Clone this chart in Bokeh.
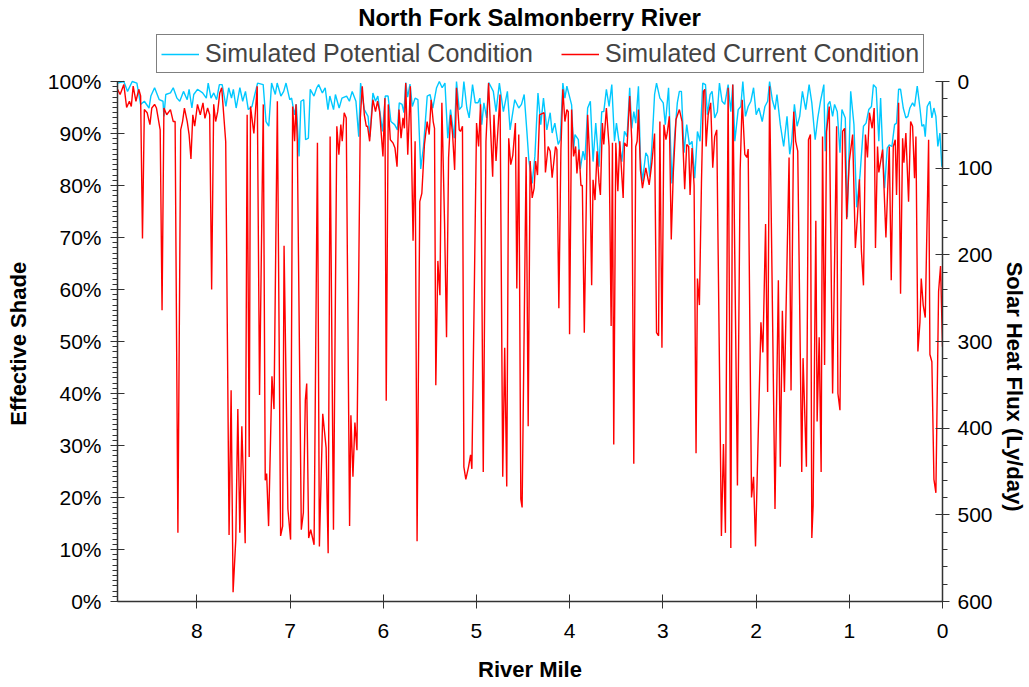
from bokeh.plotting import figure
from bokeh.models import (Range1d, LinearAxis, FixedTicker, PrintfTickFormatter,
                          Legend, LegendItem, Label)
from bokeh.embed import file_html
from bokeh.resources import INLINE

title_text = "North Fork Salmonberry River"
x_label = "River Mile"
y_label = "Effective Shade"
y2_label = "Solar Heat Flux (Ly/day)"
series_names = ["Simulated Potential Condition", "Simulated Current Condition"]

# Simulated current condition (river mile, effective shade %)
current_mile = [
    8.850, 8.823, 8.783, 8.753, 8.723, 8.703, 8.683, 8.653, 8.623, 8.603,
    8.583, 8.563, 8.533, 8.503, 8.483, 8.453, 8.433, 8.403, 8.393, 8.373,
    8.353, 8.323, 8.283, 8.253, 8.233, 8.203, 8.173, 8.153, 8.133, 8.103,
    8.083, 8.063, 8.043, 8.023, 7.993, 7.963, 7.934, 7.913, 7.884, 7.862,
    7.841, 7.819, 7.798, 7.776, 7.754, 7.733, 7.690, 7.654, 7.632, 7.611,
    7.582, 7.560, 7.539, 7.517, 7.481, 7.460, 7.438, 7.424, 7.388, 7.352,
    7.327, 7.287, 7.266, 7.251, 7.230, 7.194, 7.172, 7.136, 7.101, 7.079,
    7.064, 7.023, 6.994, 6.972, 6.951, 6.936, 6.922, 6.879, 6.857, 6.836,
    6.821, 6.800, 6.778, 6.742, 6.706, 6.685, 6.649, 6.613, 6.591, 6.570,
    6.534, 6.498, 6.476, 6.455, 6.440, 6.419, 6.397, 6.361, 6.347, 6.325,
    6.304, 6.282, 6.246, 6.225, 6.203, 6.182, 6.168, 6.146, 6.111, 6.083,
    6.061, 6.039, 6.003, 5.982, 5.968, 5.946, 5.924, 5.896, 5.874, 5.852,
    5.831, 5.809, 5.788, 5.773, 5.759, 5.737, 5.709, 5.680, 5.658, 5.637,
    5.608, 5.586, 5.558, 5.529, 5.507, 5.486, 5.464, 5.450, 5.436, 5.414,
    5.392, 5.371, 5.342, 5.321, 5.299, 5.277, 5.256, 5.234, 5.214, 5.185,
    5.171, 5.150, 5.135, 5.114, 5.085, 5.063, 5.049, 4.999, 4.977, 4.956,
    4.927, 4.898, 4.870, 4.826, 4.812, 4.790, 4.747, 4.718, 4.697, 4.675,
    4.654, 4.632, 4.610, 4.582, 4.567, 4.546, 4.524, 4.510, 4.467, 4.445,
    4.424, 4.402, 4.381, 4.366, 4.345, 4.323, 4.274, 4.260, 4.231, 4.209,
    4.188, 4.152, 4.137, 4.116, 4.094, 4.073, 4.051, 4.030, 4.015, 4.001,
    3.979, 3.958, 3.936, 3.922, 3.900, 3.879, 3.864, 3.843, 3.807, 3.785,
    3.764, 3.749, 3.728, 3.706, 3.685, 3.670, 3.649, 3.634, 3.606, 3.577,
    3.555, 3.541, 3.527, 3.505, 3.483, 3.462, 3.426, 3.412, 3.384, 3.356,
    3.334, 3.312, 3.291, 3.276, 3.262, 3.241, 3.219, 3.183, 3.147, 3.118,
    3.089, 3.068, 3.046, 3.032, 3.010, 2.989, 2.967, 2.953, 2.931, 2.910,
    2.888, 2.859, 2.823, 2.794, 2.766, 2.744, 2.723, 2.708, 2.687, 2.665,
    2.644, 2.629, 2.608, 2.586, 2.565, 2.550, 2.536, 2.514, 2.487, 2.465,
    2.444, 2.422, 2.372, 2.350, 2.329, 2.300, 2.271, 2.250, 2.200, 2.171,
    2.149, 2.121, 2.099, 2.085, 2.049, 2.027, 2.006, 1.948, 1.927, 1.898,
    1.876, 1.855, 1.797, 1.761, 1.740, 1.718, 1.696, 1.646, 1.625, 1.596,
    1.575, 1.553, 1.510, 1.496, 1.460, 1.438, 1.417, 1.402, 1.388, 1.359,
    1.345, 1.323, 1.302, 1.287, 1.265, 1.244, 1.215, 1.179, 1.136, 1.122,
    1.100, 1.072, 1.050, 1.028, 1.000, 0.964, 0.935, 0.913, 0.891, 0.870,
    0.848, 0.827, 0.805, 0.784, 0.755, 0.733, 0.719, 0.697, 0.683, 0.643,
    0.607, 0.571, 0.550, 0.528, 0.507, 0.493, 0.471, 0.450, 0.428, 0.414,
    0.393, 0.364, 0.342, 0.321, 0.300, 0.285, 0.264, 0.242, 0.228, 0.207,
    0.185, 0.149, 0.135, 0.114, 0.092, 0.071, 0.042, 0.021, 0.000,
]
current_shade = [
    98.5, 97.5, 99.4, 95.0, 96.2, 95.2, 99.1, 96.2, 98.5, 97.2,
    69.8, 94.6, 94.0, 91.7, 94.9, 95.6, 94.9, 91.7, 90.7, 56.0,
    94.9, 93.6, 94.6, 92.3, 92.3, 13.2, 90.7, 92.3, 94.9, 92.3,
    89.8, 85.1, 93.6, 91.4, 95.6, 93.6, 95.9, 92.9, 94.9, 93.6,
    60.0, 95.6, 92.3, 94.2, 97.8, 98.8, 88.4, 12.8, 40.6, 1.8,
    11.9, 37.0, 13.2, 33.7, 11.2, 93.6, 27.8, 95.2, 90.0, 99.1,
    39.7, 95.6, 23.3, 24.6, 14.5, 43.3, 37.0, 96.2, 12.6, 14.5,
    68.4, 17.8, 11.9, 95.2, 88.5, 95.6, 88.5, 13.8, 17.1, 38.7,
    41.9, 12.2, 13.8, 10.9, 88.2, 10.6, 36.1, 29.6, 9.3, 89.4,
    13.8, 91.4, 85.9, 91.7, 88.5, 94.0, 93.0, 14.5, 35.8, 24.0,
    34.4, 29.1, 93.0, 99.1, 93.6, 91.4, 91.4, 88.5, 96.5, 94.2,
    96.2, 94.2, 85.6, 96.8, 38.6, 95.6, 88.8, 88.2, 87.2, 83.6,
    94.6, 89.1, 93.0, 91.0, 99.7, 85.9, 99.1, 69.4, 88.5, 11.6,
    76.9, 78.5, 87.9, 92.3, 89.8, 96.5, 92.3, 91.0, 41.6, 65.5,
    58.9, 95.9, 72.6, 50.8, 85.3, 93.6, 89.8, 83.0, 98.8, 90.7,
    90.4, 91.4, 25.9, 23.5, 25.9, 28.2, 25.5, 92.0, 87.5, 95.6,
    24.9, 88.5, 99.7, 81.7, 93.6, 84.7, 97.5, 24.0, 48.8, 22.1,
    89.1, 84.0, 85.8, 92.0, 60.2, 89.8, 19.7, 18.1, 85.5, 33.7,
    84.7, 77.6, 79.5, 84.7, 82.0, 93.6, 94.0, 82.5, 87.5, 86.6,
    81.5, 87.5, 86.9, 56.4, 86.9, 98.5, 92.3, 94.6, 94.2, 51.4,
    94.6, 85.6, 87.5, 82.3, 86.9, 80.0, 80.0, 51.7, 93.6, 85.3,
    60.8, 81.1, 77.2, 86.6, 80.5, 78.2, 92.0, 87.9, 94.9, 87.5,
    53.0, 88.2, 30.2, 88.2, 78.9, 88.5, 77.6, 88.2, 87.5, 97.2,
    88.8, 26.5, 87.5, 88.5, 94.6, 83.0, 79.5, 83.4, 80.1, 84.4,
    90.0, 51.7, 51.1, 92.3, 48.8, 91.7, 88.8, 90.1, 93.3, 69.6,
    82.5, 92.7, 94.6, 92.3, 79.3, 87.9, 87.5, 78.2, 87.2, 80.0,
    28.5, 62.1, 57.0, 80.5, 98.1, 98.5, 87.5, 93.6, 95.9, 83.4,
    89.4, 90.7, 12.6, 30.3, 13.2, 98.8, 10.3, 99.4, 22.3, 82.8,
    96.5, 86.0, 85.4, 87.0, 20.0, 24.0, 10.6, 53.7, 47.9, 72.6,
    40.3, 99.1, 17.8, 61.8, 25.9, 55.9, 40.3, 85.4, 40.6, 94.2,
    88.5, 86.6, 24.9, 46.8, 25.9, 88.8, 89.8, 12.2, 18.4, 73.2,
    34.6, 50.8, 24.9, 89.4, 45.5, 90.4, 95.2, 40.0, 91.4, 40.0,
    36.8, 90.4, 91.0, 73.5, 84.7, 89.8, 68.0, 73.9, 81.2, 67.4,
    60.8, 89.8, 85.4, 94.0, 91.0, 94.9, 68.0, 87.5, 82.5, 86.9,
    70.0, 87.5, 61.8, 87.5, 88.8, 78.2, 95.9, 59.2, 89.1, 84.4,
    90.1, 76.9, 92.3, 91.4, 81.4, 89.4, 48.1, 53.7, 62.1, 57.0,
    54.6, 88.8, 47.5, 46.1, 23.5, 20.9, 59.6, 64.5, 49.0,
]

# Simulated potential condition (river mile, effective shade %)
potential_mile = [
    8.850, 8.783, 8.743, 8.693, 8.643, 8.603, 8.563, 8.513, 8.493, 8.453,
    8.403, 8.363, 8.353, 8.333, 8.283, 8.253, 8.213, 8.183, 8.143, 8.103,
    8.083, 8.053, 8.033, 7.993, 7.938, 7.898, 7.878, 7.848, 7.818, 7.788,
    7.758, 7.728, 7.688, 7.658, 7.628, 7.608, 7.578, 7.538, 7.508, 7.478,
    7.448, 7.408, 7.378, 7.348, 7.288, 7.258, 7.228, 7.198, 7.158, 7.138,
    7.098, 7.068, 7.043, 7.003, 6.983, 6.953, 6.933, 6.903, 6.883, 6.853,
    6.833, 6.803, 6.783, 6.743, 6.713, 6.693, 6.653, 6.623, 6.593, 6.573,
    6.533, 6.513, 6.473, 6.443, 6.393, 6.363, 6.333, 6.293, 6.263, 6.243,
    6.203, 6.163, 6.143, 6.111, 6.083, 6.058, 6.008, 5.978, 5.948, 5.918,
    5.878, 5.848, 5.828, 5.798, 5.778, 5.758, 5.738, 5.713, 5.688, 5.658,
    5.628, 5.598, 5.568, 5.528, 5.498, 5.468, 5.428, 5.398, 5.368, 5.338,
    5.308, 5.278, 5.238, 5.214, 5.185, 5.157, 5.135, 5.103, 5.078, 5.042,
    5.013, 4.983, 4.963, 4.943, 4.920, 4.891, 4.868, 4.819, 4.790, 4.754,
    4.711, 4.668, 4.639, 4.589, 4.546, 4.517, 4.488, 4.459, 4.438, 4.402,
    4.373, 4.340, 4.310, 4.281, 4.245, 4.209, 4.188, 4.159, 4.123, 4.101,
    4.073, 4.051, 4.030, 3.979, 3.958, 3.943, 3.907, 3.886, 3.857, 3.836,
    3.807, 3.778, 3.749, 3.720, 3.685, 3.656, 3.634, 3.606, 3.577, 3.548,
    3.519, 3.498, 3.469, 3.440, 3.412, 3.384, 3.356, 3.334, 3.312, 3.291,
    3.262, 3.241, 3.219, 3.183, 3.162, 3.140, 3.118, 3.089, 3.068, 3.032,
    2.996, 2.974, 2.939, 2.903, 2.874, 2.845, 2.823, 2.801, 2.773, 2.744,
    2.715, 2.687, 2.658, 2.629, 2.601, 2.572, 2.543, 2.522, 2.493, 2.472,
    2.444, 2.415, 2.393, 2.365, 2.336, 2.300, 2.271, 2.250, 2.228, 2.192,
    2.164, 2.142, 2.114, 2.085, 2.056, 2.027, 1.999, 1.970, 1.934, 1.905,
    1.876, 1.855, 1.826, 1.797, 1.776, 1.740, 1.704, 1.668, 1.639, 1.618,
    1.589, 1.560, 1.532, 1.503, 1.467, 1.431, 1.402, 1.366, 1.338, 1.309,
    1.273, 1.258, 1.229, 1.208, 1.179, 1.158, 1.129, 1.100, 1.079, 1.043,
    1.021, 0.985, 0.950, 0.921, 0.885, 0.848, 0.820, 0.791, 0.762, 0.741,
    0.712, 0.683, 0.664, 0.643, 0.621, 0.593, 0.571, 0.543, 0.514, 0.493,
    0.471, 0.450, 0.421, 0.393, 0.371, 0.350, 0.321, 0.300, 0.271, 0.242,
    0.221, 0.200, 0.185, 0.164, 0.135, 0.114, 0.092, 0.071, 0.050, 0.028,
    0.007,
]
potential_shade = [
    99.7, 100.0, 98.1, 100.0, 99.7, 95.6, 96.2, 94.9, 97.2, 98.8,
    96.5, 96.2, 93.3, 97.5, 97.8, 98.8, 96.8, 96.2, 98.1, 96.5,
    98.5, 94.9, 97.5, 98.5, 97.8, 96.8, 99.7, 96.8, 97.8, 96.5,
    99.4, 99.4, 95.2, 98.8, 96.8, 98.5, 94.9, 98.8, 96.2, 98.1,
    94.6, 95.2, 97.5, 99.7, 99.4, 92.3, 91.4, 99.7, 97.5, 99.7,
    97.2, 98.1, 99.7, 96.5, 96.8, 93.6, 95.6, 85.6, 96.2, 96.5,
    88.8, 89.1, 98.5, 97.2, 98.8, 99.4, 97.8, 98.8, 94.6, 97.2,
    94.6, 97.5, 94.9, 96.8, 97.2, 96.2, 98.1, 96.2, 89.4, 99.7,
    94.6, 93.3, 89.4, 97.8, 96.2, 97.2, 90.4, 97.2, 97.2, 92.3,
    91.7, 90.7, 95.9, 95.6, 94.0, 99.8, 97.0, 99.5, 95.2, 96.8,
    96.5, 83.2, 87.5, 97.2, 97.5, 94.9, 98.8, 100.0, 98.8, 99.7,
    89.1, 94.6, 89.1, 100.0, 94.6, 95.2, 100.0, 94.9, 93.0, 99.4,
    95.9, 95.9, 96.8, 91.7, 95.9, 93.0, 99.8, 98.1, 94.2, 99.7,
    94.2, 98.1, 90.7, 96.5, 94.9, 95.6, 97.5, 90.4, 84.9, 80.4,
    85.6, 97.8, 91.7, 96.8, 90.7, 94.0, 90.1, 92.0, 87.9, 88.8,
    99.7, 96.8, 99.1, 95.5, 86.9, 89.8, 88.8, 83.2, 86.6, 84.9,
    94.9, 96.2, 84.6, 92.0, 83.6, 94.2, 94.2, 98.5, 95.2, 99.4,
    88.5, 92.0, 88.2, 84.6, 90.4, 89.4, 98.8, 91.0, 94.2, 92.0,
    99.1, 85.3, 80.8, 86.3, 85.6, 81.7, 87.5, 97.5, 99.7, 96.8,
    95.9, 91.7, 98.8, 80.4, 89.4, 95.9, 98.1, 98.1, 86.3, 91.7,
    87.8, 88.5, 81.4, 90.4, 88.5, 99.7, 99.4, 93.6, 97.5, 98.1,
    93.0, 94.2, 99.7, 96.2, 95.6, 99.4, 94.2, 99.4, 88.5, 94.6,
    95.2, 100.0, 93.3, 95.2, 96.2, 98.8, 93.6, 94.9, 92.3, 95.2,
    96.2, 100.0, 96.5, 94.6, 97.5, 91.7, 87.5, 93.3, 86.0, 88.5,
    95.6, 91.4, 93.3, 98.1, 94.6, 99.4, 95.9, 88.8, 93.0, 96.2,
    99.4, 86.6, 95.6, 96.2, 93.3, 95.6, 94.2, 86.3, 94.6, 93.0,
    73.9, 98.1, 91.7, 75.8, 82.0, 91.4, 92.0, 94.6, 95.2, 99.4,
    98.8, 88.5, 96.8, 87.2, 79.5, 87.2, 87.8, 87.5, 91.7, 92.0,
    98.5, 98.5, 94.9, 93.0, 93.3, 94.9, 95.9, 95.2, 99.1, 94.9,
    91.4, 91.7, 89.4, 95.2, 96.2, 93.0, 94.9, 93.3, 87.5, 90.1,
    83.6,
]

x_ticks = [0, 1, 2, 3, 4, 5, 6, 7, 8]
y_ticks = [0, 10, 20, 30, 40, 50, 60, 70, 80, 90, 100]
y2_ticks = [0, 100, 200, 300, 400, 500, 600]

FONT = "Liberation Sans"
NBSP = "\u00a0"

# canvas layout (pixels)
W, H = 1029, 687
LEFT, RIGHT, BOTTOM = 117, 87, 86
DATA_TOP = 81                      # where 100 % / 0 Ly/day sits
frame_h = H - BOTTOM               # frame reaches the top edge of the canvas
data_h = frame_h - DATA_TOP
y_top = 100.0 * frame_h / data_h   # range extends above 100 % to leave room for title / legend
flux_top = -600.0 * DATA_TOP / data_h

p = figure(width=W, height=H, output_backend="svg", toolbar_location=None,
           x_range=Range1d(8.851, 0), y_range=Range1d(0, y_top),
           min_border_left=LEFT, min_border_right=RIGHT, min_border_top=0,
           min_border_bottom=BOTTOM, title=None)
p.background_fill_color = "white"
p.border_fill_color = "white"
p.outline_line_color = None
p.xgrid.visible = False
p.ygrid.visible = False

p.extra_y_ranges = {"flux": Range1d(600, flux_top)}
right_axis = LinearAxis(y_range_name="flux")
p.add_layout(right_axis, "right")

xa = p.xaxis[0]
xa.ticker = FixedTicker(ticks=x_ticks, minor_ticks=[])
xa.major_label_standoff = 15
xa.axis_label = x_label
xa.axis_label_standoff = 16

ya = p.yaxis[0]
ya.bounds = (0, 100)
ya.ticker = FixedTicker(ticks=y_ticks, minor_ticks=[i for i in range(0, 101) if i % 10 != 0])
ya.formatter = PrintfTickFormatter(format="%d%%")
ya.major_label_standoff = 9
# trailing no-break spaces keep the label centred on the 0-100 % part of the axis
ya.axis_label = y_label + NBSP * 14
ya.axis_label_standoff = 14

right_axis.bounds = (0, 600)
right_axis.ticker = FixedTicker(ticks=y2_ticks, minor_ticks=[v for v in range(0, 601, 20) if v % 100 != 0])
right_axis.major_label_standoff = 8
right_axis.axis_label = NBSP * 28 + y2_label
right_axis.axis_label_standoff = 6

for ax in (xa, ya, right_axis):
    ax.axis_line_color = "#333333"
    ax.axis_line_width = 1.5
    ax.major_tick_line_color = "#333333"
    ax.minor_tick_line_color = "#333333"
    ax.major_tick_in = 7
    ax.major_tick_out = 7
    ax.minor_tick_in = 0
    ax.minor_tick_out = 5
    ax.major_label_text_font = FONT
    ax.major_label_text_font_size = "21px"
    ax.major_label_text_color = "black"
    ax.axis_label_text_font = FONT
    ax.axis_label_text_font_size = "22px"
    ax.axis_label_text_font_style = "bold"
    ax.axis_label_text_color = "black"

r_pot = p.line(potential_mile, potential_shade, line_color="#00C8FF", line_width=1.4)
r_cur = p.line(current_mile, current_shade, line_color="#FF0000", line_width=1.4)

legend = Legend(items=[LegendItem(label=series_names[0], renderers=[r_pot]),
                       LegendItem(label=series_names[1], renderers=[r_cur])],
                orientation="horizontal", location=(156 - LEFT, frame_h - 73))
legend.border_line_color = "black"
legend.border_line_width = 1
legend.background_fill_color = "white"
legend.background_fill_alpha = 1
legend.label_text_font = FONT
legend.label_text_font_size = "25px"
legend.glyph_width = 38
legend.glyph_height = 20
legend.label_height = 20
legend.label_standoff = 6
legend.spacing = 28
legend.padding = 4
legend.margin = 0
p.add_layout(legend)

title = Label(x=529 - LEFT, y=frame_h - 17, x_units="screen", y_units="screen",
              text=title_text, text_align="center", text_baseline="middle",
              text_font=FONT, text_font_size="24px", text_font_style="bold",
              text_color="black")
p.add_layout(title)

open("out.html", "w").write(file_html(p, INLINE))
